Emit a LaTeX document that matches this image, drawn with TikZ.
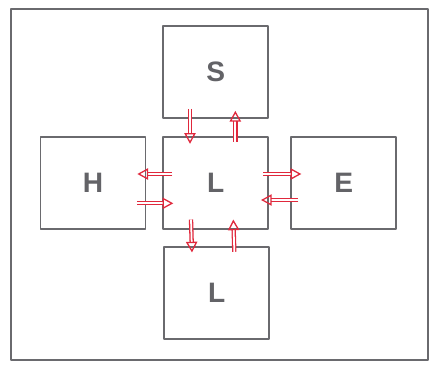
\documentclass[tikz,border=0pt]{standalone}
\usepackage{fontspec}
\setsansfont{Liberation Sans}
\usetikzlibrary{arrows.meta}
\definecolor{ink2}{HTML}{6A6A6E}
\definecolor{txt}{HTML}{636367}
\definecolor{arrred}{HTML}{E0283C}
\tikzset{
  every picture/.style={line join=round},
  box/.style={draw=ink2, fill=white, line width=1.5pt, minimum width=3.15cm,
    minimum height=2.76cm, inner sep=0pt, text=txt,
    font=\sffamily\bfseries\fontsize{24}{30}\selectfont},
  arr/.style={draw=arrred, line width=1.1pt, double=white, double distance=1.5pt,
    -{Triangle[open, length=3.2mm, width=3.4mm]}},
  frame/.style={draw=ink2, line width=0.9pt},
}
\begin{document}
\begin{tikzpicture}
  \useasboundingbox (0,0) rectangle (12.87,-10.95);
  \draw[frame] (0.33,-0.27) rectangle (12.84,-10.8);

  % ---------------- boxes ----------------
  \node[box] (s) at (6.47,-2.16) {S};
  \node[box] (h) at (2.79,-5.48) {H};
  \node[box] (c) at (6.47,-5.48) {L};
  \node[box] (e) at (10.31,-5.48) {E};
  \node[box] (b) at (6.50,-8.78) {L};

  % ---------------- arrows ----------------
  \draw[arr] ([xshift=-0.77cm,yshift=0.3cm]s.south) -- ([xshift=-0.77cm,yshift=-0.24cm]c.north);
  \draw[arr] ([xshift=0.59cm,yshift=-0.18cm]c.north) -- ([xshift=0.59cm,yshift=0.24cm]s.south);
  \draw[arr] ([xshift=0.3cm,yshift=0.26cm]c.west) -- ([xshift=-0.27cm,yshift=0.26cm]h.east);
  \draw[arr] ([xshift=-0.27cm,yshift=-0.62cm]h.east) -- ([xshift=0.33cm,yshift=-0.62cm]c.west);
  \draw[arr] ([xshift=-0.18cm,yshift=0.26cm]c.east) -- ([xshift=0.33cm,yshift=0.26cm]e.west);
  \draw[arr] ([xshift=0.24cm,yshift=-0.52cm]e.west) -- ([xshift=-0.24cm,yshift=-0.52cm]c.east);
  \draw[arr] ([xshift=-0.74cm,yshift=0.3cm]c.south) -- ([xshift=-0.74cm,yshift=-0.2cm]b.north);
  \draw[arr] ([xshift=0.53cm,yshift=-0.18cm]b.north) -- ([xshift=0.53cm,yshift=0.3cm]c.south);
\end{tikzpicture}
\end{document}
